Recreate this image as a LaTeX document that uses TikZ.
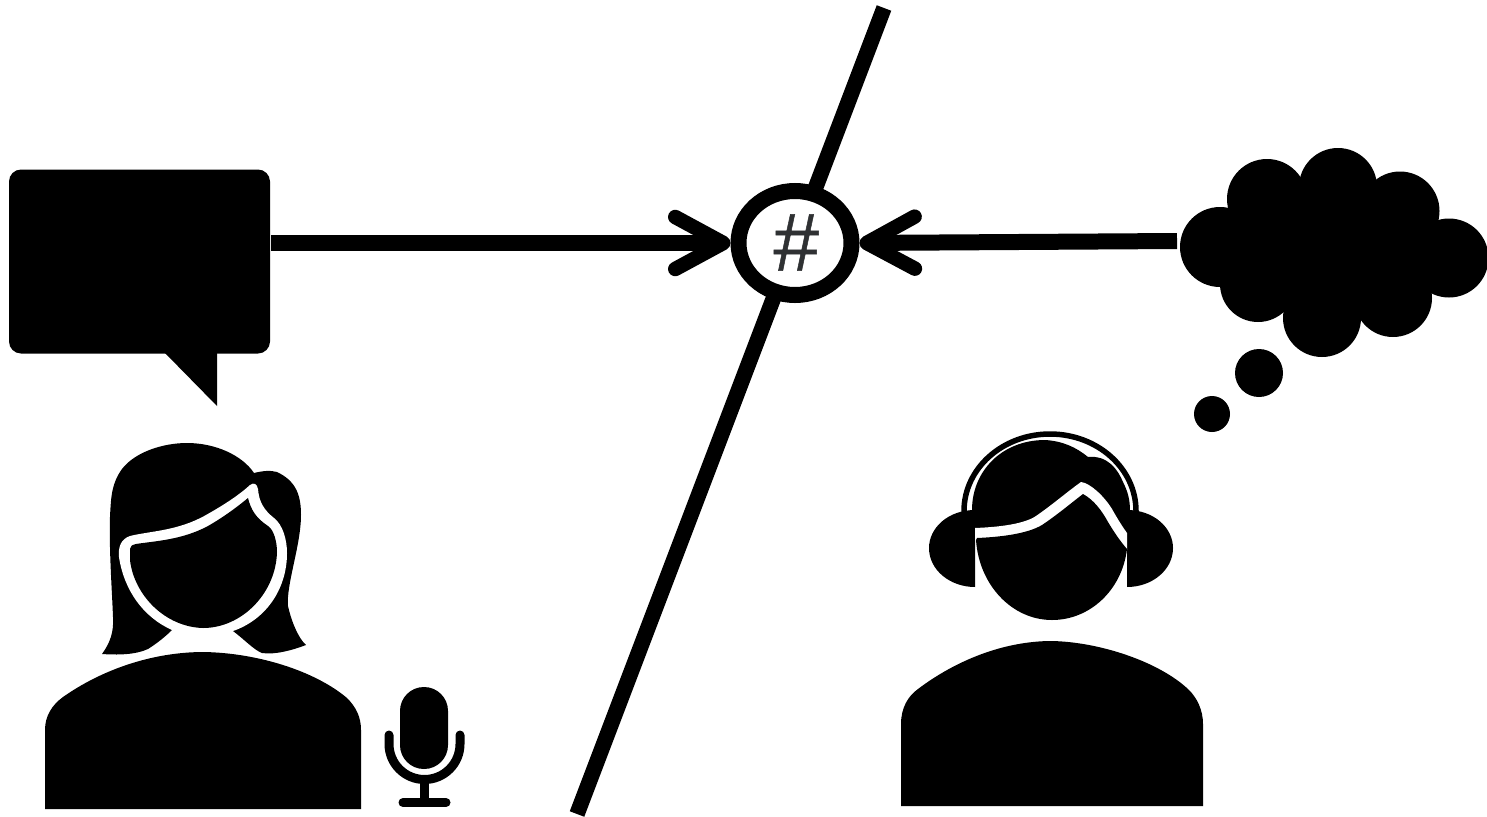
\documentclass[tikz,border=0pt]{standalone}
\usepackage{fontspec}
\setmainfont{Liberation Sans}
\newfontfamily\hashfont[FakeBold=0.6]{Liberation Sans Italic}
\usetikzlibrary{shapes.geometric,arrows.meta,backgrounds}
\tikzset{
  link/.style={draw=black,line width=16pt,line cap=butt},
  barbed/.style={-{Straight Barb[length=48pt,width=52pt,line width=14.5pt,round]}},
  micline/.style={draw=black,line width=9pt,line cap=round},
}
\definecolor{hashgray}{HTML}{2F3133}
\begin{document}
\begin{tikzpicture}[x=1pt,y=-1pt,line join=miter]
\useasboundingbox (0,0) rectangle (1487,816);

% central ring
\node[ellipse,draw=black,fill=white,line width=16pt,minimum width=113pt,minimum height=104pt,inner sep=0pt,
      text=hashgray,font=\fontsize{82}{82}\selectfont\hashfont] (ring) at (795,243) {\raisebox{1pt}{\#}};

% speech bubble
\node[draw=none,fill=black,rounded corners=12pt,minimum width=261pt,minimum height=184pt,inner sep=0pt,outer sep=0pt] (bubble) at (139.5,261.5) {};
\fill[black] (165,353) -- (217,406) -- (217,353) -- cycle;

% cloud
\foreach \cx/\cy/\r in {1220/247/40,1267/199/40,1338/187/39,1400/211/39.5,1449/258/39.5,1393/298/39,1322/318/39,1258/284/38}
  \fill[black] (\cx,\cy) circle[radius=\r pt];
\fill[black] (1220,215) -- (1267,199) -- (1338,187) -- (1400,211) -- (1449,258) -- (1393,298) -- (1322,318) -- (1258,284) -- (1220,247) -- cycle;
\fill[black] (1259,373) circle[radius=24pt];
\fill[black] (1212,414) circle[radius=18pt];
\coordinate (cloudedge) at (1177,241);

% diagonal and connectors
\coordinate (diagtop) at (884,8);
\coordinate (diagbottom) at (577,814);
\begin{pgfonlayer}{background}
  \draw[black,line width=15.5pt] (diagtop) -- (diagbottom);
  \draw[link,barbed] ([xshift=1pt]bubble.east |- ring.west) -- (ring.west);
  \draw[link,barbed] (cloudedge) -- (ring.east);
\end{pgfonlayer}

% woman
\fill[black] (45,809) -- (45,730) .. controls (45,716) and (52,705) .. (63,697)
  .. controls (100,671) and (150,652) .. (204,652)
  .. controls (258,653) and (315,671) .. (347,698)
  .. controls (356,707) and (361,717) .. (361,730) -- (361,809) -- cycle;
\fill[black] (102,654) .. controls (110,643) and (114,632) .. (113,617)
  .. controls (112,590) and (109,550) .. (110,517)
  .. controls (111,495) and (112,483) .. (122,469)
  .. controls (135,452) and (163,443) .. (187,443)
  .. controls (215,443) and (242,455) .. (254,473)
  .. controls (262,471) and (270,470) .. (277,472)
  .. controls (296,481) and (301,495) .. (301,515)
  .. controls (301,545) and (286,585) .. (288,606)
  .. controls (291,620) and (298,638) .. (306,645)
  .. controls (293,650) and (275,655) .. (262,653)
  .. controls (254,650) and (245,640) .. (233,631)
  -- (203,610) -- (172,630)
  .. controls (165,637) and (156,644) .. (148,649)
  .. controls (135,655) and (117,655) .. (102,654) -- cycle;
\fill[white] (172,630) .. controls (143,617) and (124,590) .. (119,557)
  .. controls (118,547) and (121,539) .. (130,536)
  .. controls (150,531) and (178,531) .. (206,515)
  .. controls (222,506) and (238,496) .. (250,485)
  .. controls (254,482) and (257,484) .. (258,489)
  .. controls (259,502) and (264,510) .. (274,518)
  .. controls (283,525) and (287,540) .. (287,553)
  .. controls (287,590) and (265,620) .. (233,631) -- (203,640) -- cycle;
\fill[black] (130,549) .. controls (130,546) and (132,545) .. (136,544)
  .. controls (155,541) and (182,540) .. (208,526)
  .. controls (222,518) and (236,508) .. (248,498)
  .. controls (251,510) and (256,518) .. (268,526)
  .. controls (274,530) and (277,542) .. (277,552)
  .. controls (276,593) and (242,628) .. (203,628)
  .. controls (165,627) and (134,595) .. (130,560) -- cycle;

% microphone
\fill[black,rounded corners=23.9pt] (400,687) rectangle (448,769);
\draw[micline] (389,735) -- (389,744) arc[start angle=180,end angle=360,radius=35.5pt] -- (460,735);
\draw[micline,line cap=butt] (424.5,780) -- (424.5,802);
\draw[micline] (403,802.5) -- (446,802.5);

% man
\fill[black] (901,806) -- (901,724) .. controls (901,708) and (908,696) .. (918,689)
  .. controls (955,661) and (1003,641) .. (1052,641)
  .. controls (1100,642) and (1160,662) .. (1189,690)
  .. controls (1197,698) and (1203,710) .. (1203,724) -- (1203,806) -- cycle;
\draw[black,line width=5.5pt] (964,513) -- (964,511)
  arc[start angle=180,delta angle=180,x radius=86pt,y radius=-77pt] -- (1136,513);
\fill[black] (975,510) .. controls (948,510) and (929,528) .. (929,548)
  .. controls (929,570) and (950,587) .. (975,587) -- cycle;
\fill[black] (1127,510) .. controls (1154,510) and (1173,528) .. (1173,548)
  .. controls (1173,570) and (1152,587) .. (1127,587) -- cycle;
\fill[black] (972,530) -- (972,510) .. controls (972,471) and (1002,440) .. (1045,440)
  .. controls (1062,441) and (1076,447) .. (1088,457)
  .. controls (1108,455) and (1118,470) .. (1123,482)
  .. controls (1128,492) and (1130,500) .. (1130,511) -- (1127,535) -- cycle;
\fill[white] (975,528) .. controls (1000,527) and (1024,524) .. (1036,516)
  .. controls (1052,505) and (1067,492) .. (1081,482)
  .. controls (1090,483) and (1104,496) .. (1112,509)
  .. controls (1117,518) and (1122,526) .. (1127,533)
  -- (1127,550) -- (1050,560) -- (975,540) -- cycle;
\fill[black] (977,538) .. controls (1000,537) and (1027,534) .. (1042,525)
  .. controls (1057,515) and (1070,504) .. (1083,494)
  .. controls (1094,500) and (1102,511) .. (1108,522)
  .. controls (1114,532) and (1120,541) .. (1127,549)
  .. controls (1122,590) and (1090,620) .. (1052,620)
  .. controls (1012,620) and (979,585) .. (976,540) -- cycle;
\end{tikzpicture}
\end{document}
